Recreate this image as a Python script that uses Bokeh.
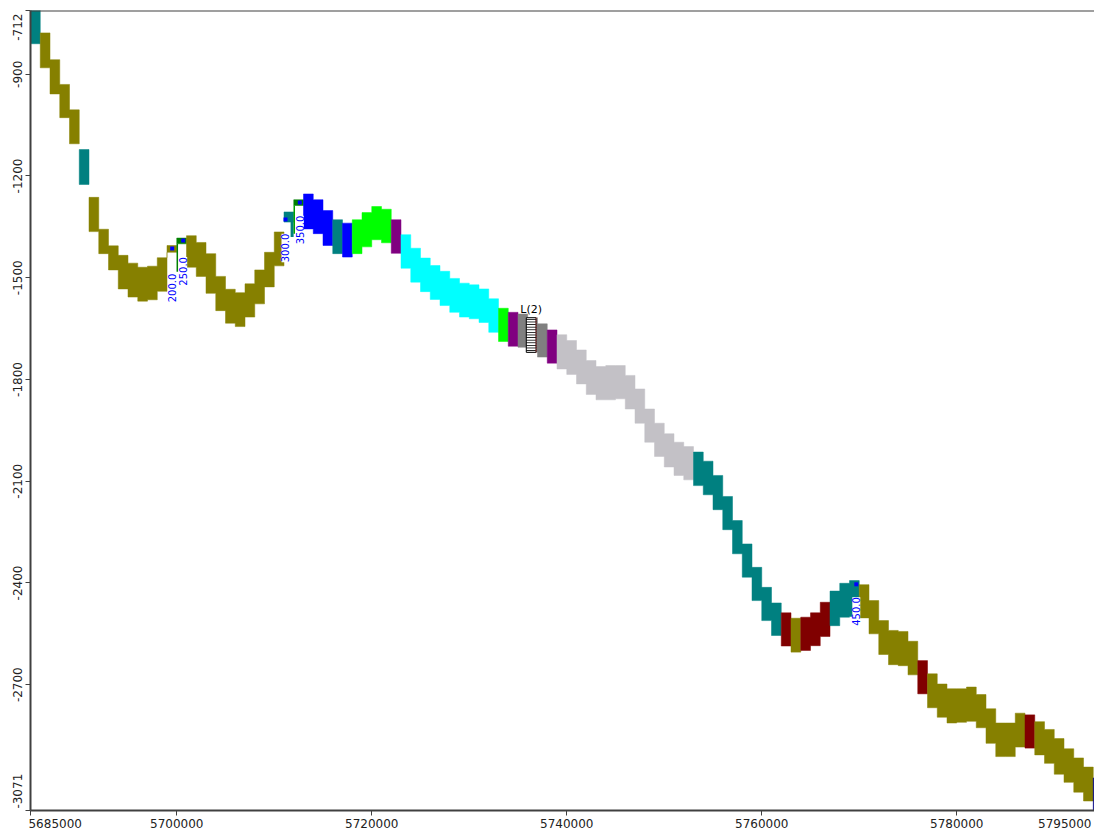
from bokeh.plotting import figure
from bokeh.models import (Range1d, FixedTicker, BasicTickFormatter, LabelSet, LinearAxis,
                          ColumnDataSource, Span)
from bokeh.core.properties import value
from bokeh.embed import file_html
from bokeh.resources import INLINE

# ---------------- data ----------------
x_start = 5685000
x_end = 5794128
y_top = -712
y_bottom = -3071
step = 1000

x_ticks = [5685000, 5700000, 5720000, 5740000, 5760000, 5780000]
x_tick_labels = ["5685000", "5700000", "5720000", "5740000", "5760000", "5780000", "5795000"]
y_ticks = [-712, -900, -1200, -1500, -1800, -2100, -2400, -2700, -3071]
y_tick_labels = ["-712", "-900", "-1200", "-1500", "-1800", "-2100", "-2400", "-2700", "-3071"]

zone_top = [-700, -778, -857, -930, -1005, -1122, -1263, -1357, -1406, -1434,
            -1457, -1469, -1466, -1441, -1405, -1383, -1376, -1396, -1429, -1496,
            -1534, -1544, -1518, -1477, -1425, -1365, -1306, -1270, -1253, -1270,
            -1302, -1329, -1339, -1329, -1308, -1290, -1298, -1329, -1373, -1413,
            -1442, -1464, -1481, -1502, -1516, -1521, -1533, -1562, -1590, -1602,
            -1607, -1618, -1636, -1654, -1668, -1685, -1713, -1744, -1762, -1759,
            -1759, -1788, -1828, -1887, -1929, -1960, -1985, -1998, -2014, -2041,
            -2083, -2145, -2216, -2285, -2354, -2413, -2459, -2488, -2504, -2501,
            -2488, -2457, -2424, -2401, -2393, -2405, -2452, -2511, -2540, -2543,
            -2572, -2629, -2668, -2698, -2712, -2712, -2707, -2729, -2771, -2813,
            -2813, -2784, -2789, -2809, -2832, -2859, -2889, -2916, -2943, -2975]
zone_bottom = [-810, -881, -958, -1028, -1105, -1225, -1364, -1429, -1477, -1533,
               -1557, -1569, -1565, -1540, -1425, -1400, -1469, -1496, -1546, -1597,
               -1634, -1644, -1616, -1577, -1527, -1465, -1336, -1287, -1356, -1370,
               -1405, -1429, -1439, -1429, -1409, -1388, -1397, -1428, -1472, -1513,
               -1541, -1564, -1582, -1602, -1616, -1621, -1632, -1661, -1688, -1702,
               -1705, -1720, -1734, -1752, -1769, -1785, -1813, -1844, -1860, -1860,
               -1857, -1887, -1929, -1985, -2027, -2058, -2083, -2096, -2113, -2140,
               -2184, -2243, -2314, -2383, -2452, -2511, -2555, -2586, -2604, -2599,
               -2585, -2558, -2526, -2501, -2499, -2503, -2550, -2611, -2641, -2644,
               -2671, -2727, -2768, -2796, -2813, -2811, -2808, -2827, -2873, -2912,
               -2912, -2884, -2887, -2907, -2932, -2964, -2988, -3017, -3043, -3080]
zone_name = (["teal"] + ["olive"] * 4 + ["teal"] + ["olive"] * 9 + ["dkgreen"]
             + ["olive"] * 10 + ["teal", "dkgreen"] + ["blue"] * 3 + ["teal", "blue"]
             + ["lime"] * 4 + ["purple"] + ["cyan"] * 10 + ["lime", "purple"]
             + ["gray"] * 3 + ["purple"] + ["silver"] * 14 + ["teal"] * 9
             + ["maroon", "olive"] + ["maroon"] * 3 + ["teal"] * 3 + ["olive"] * 6
             + ["maroon"] + ["olive"] * 10 + ["maroon"] + ["olive"] * 6 + ["navy"])
zone_colors = {"teal": "#008080", "olive": "#868000", "dkgreen": "#008000",
               "blue": "#0000FF", "lime": "#00FF00", "purple": "#800080",
               "cyan": "#00FFFF", "gray": "#808080", "silver": "#C3C1C6",
               "maroon": "#800000", "navy": "#000080"}

well_x = [5699533, 5700662, 5711154, 5712621, 5769697]
well_marker_depth = [-1414, -1390, -1328, -1278, -2404]
well_label_depth = [-1488, -1439, -1370, -1317, -2442]
well_label = ["200.0", "250.0", "300.0", "350.0", "450.0"]

stick_x = [5700056, 5711831, 5712051]
stick_top = [-1400, -1336, -1287]
stick_bottom = [-1482, -1380, -1370]
stick_color = ["#008000", "#008080", "#00A000"]
stick_width = [1.5, 3, 1.5]

log_left = [5735850]
log_right = [5736850]
log_top = [-1618]
log_bottom = [-1720]
log_label = ["L(2)"]

# ---------------- figure ----------------
FONT = "DejaVu Sans"
FS = 12
AXC = "#404040"
TXT = "#222222"
FRAME_W, FRAME_H = 1064, 800

p = figure(width=1094, height=834,
           x_range=Range1d(x_start, x_end), y_range=Range1d(y_bottom, y_top),
           output_backend="svg", toolbar_location=None,
           min_border_left=30, min_border_right=0, min_border_top=10, min_border_bottom=24)
p.xgrid.visible = False
p.ygrid.visible = False
p.outline_line_color = None
p.background_fill_color = "white"
p.border_fill_color = "white"

# zone band: one stepped polygon per run of the same zone
n = len(zone_top)
left = [x_start + step * i for i in range(n)]
right = [l + step for l in left]
pxs, pys, pcols = [], [], []
i = 0
while i < n:
    j = i
    while j + 1 < n and zone_name[j + 1] == zone_name[i]:
        j += 1
    xs, ys = [], []
    for k in range(i, j + 1):
        xs += [left[k], right[k]]
        ys += [zone_top[k], zone_top[k]]
    for k in range(j, i - 1, -1):
        xs += [right[k], left[k]]
        ys += [zone_bottom[k], zone_bottom[k]]
    pxs.append(xs)
    pys.append(ys)
    pcols.append(zone_colors[zone_name[i]])
    i = j + 1
p.patches(xs=pxs, ys=pys, fill_color=pcols, line_color=pcols, line_width=0.5)

# well sticks
p.segment(x0=stick_x, y0=stick_top, x1=stick_x, y1=stick_bottom,
          line_color=stick_color, line_width=stick_width)

# log track box
p.quad(left=log_left, right=log_right, top=log_top, bottom=log_bottom,
       fill_color="white", line_color="black", line_width=1,
       hatch_pattern="horizontal_line", hatch_color="black", hatch_scale=2.6,
       hatch_weight=1)
p.segment(x0=log_right, y0=log_top, x1=log_right, y1=log_bottom,
          line_color="#D04040", line_width=1, line_dash="1 1")
log_src = ColumnDataSource(dict(x=[(a + b) / 2 for a, b in zip(log_left, log_right)],
                                y=log_top, text=log_label))
p.add_layout(LabelSet(x="x", y="y", text="text", source=log_src, text_align="center",
                      text_baseline="bottom", y_offset=2, text_font=value(FONT),
                      text_font_size="11px", text_color="black"))

# well labels and markers
wl_src = ColumnDataSource(dict(x=well_x, y=well_label_depth, text=well_label))
p.add_layout(LabelSet(x="x", y="y", text="text", source=wl_src, angle=90,
                      angle_units="deg", text_align="right", text_baseline="middle",
                      text_font=value(FONT), text_font_size="10px", text_color="#0000FF",
                      background_fill_color="white"))
p.scatter(x=well_x, y=well_marker_depth, marker="square", size=4,
          fill_color="#0000FF", line_color=None)

# top border
p.add_layout(Span(location=y_top, dimension="width", line_color=AXC, line_width=2))

# ---------------- axes ----------------
# inner axes: lines and tick marks only
for ax, ticks in ((p.xaxis[0], x_ticks), (p.yaxis[0], y_ticks)):
    ax.ticker = FixedTicker(ticks=ticks)
    ax.axis_line_color = AXC
    ax.axis_line_width = 2
    ax.major_tick_line_color = AXC
    ax.major_tick_line_width = 1
    ax.major_tick_out = 5
    ax.major_tick_in = 0
    ax.minor_tick_line_color = None
    ax.major_label_text_font_size = "0px"
    ax.major_label_standoff = 0
    ax.major_label_overrides = {t: "" for t in ticks}


def text_len(s, size=FS):
    w = {"-": 0.361, ".": 0.318}
    return sum(w.get(c, 0.636) for c in s) * size


px_x = FRAME_W / (x_end - x_start)
px_y = FRAME_H / (y_top - y_bottom)

# outer axes: tick labels only (edge labels kept inside the frame's extent)
x_lab_pos = ([round(x_start + (text_len(x_tick_labels[0]) / 2 - 2) / px_x)]
             + x_ticks[1:]
             + [round(x_end - (text_len(x_tick_labels[-1]) / 2 + 3) / px_x)])
y_lab_pos = ([round(y_top - (text_len(y_tick_labels[0]) / 2 + 3) / px_y)]
             + y_ticks[1:-1]
             + [round(y_bottom + (text_len(y_tick_labels[-1]) / 2 + 2) / px_y)])

common = dict(axis_line_color=None, major_tick_line_color=None,
              minor_tick_line_color=None, major_tick_out=0, major_tick_in=0,
              major_label_text_font=FONT, major_label_text_font_size=f"{FS}px",
              major_label_text_color=TXT,
              formatter=BasicTickFormatter(use_scientific=False))
xb = LinearAxis(ticker=FixedTicker(ticks=x_lab_pos),
                major_label_overrides=dict(zip(x_lab_pos, x_tick_labels)),
                major_label_standoff=3, **common)
yb = LinearAxis(ticker=FixedTicker(ticks=y_lab_pos),
                major_label_overrides=dict(zip(y_lab_pos, y_tick_labels)),
                major_label_standoff=3, major_label_orientation="vertical", **common)
p.add_layout(xb, "below")
p.add_layout(yb, "left")

open("out.html", "w").write(file_html(p, INLINE))
